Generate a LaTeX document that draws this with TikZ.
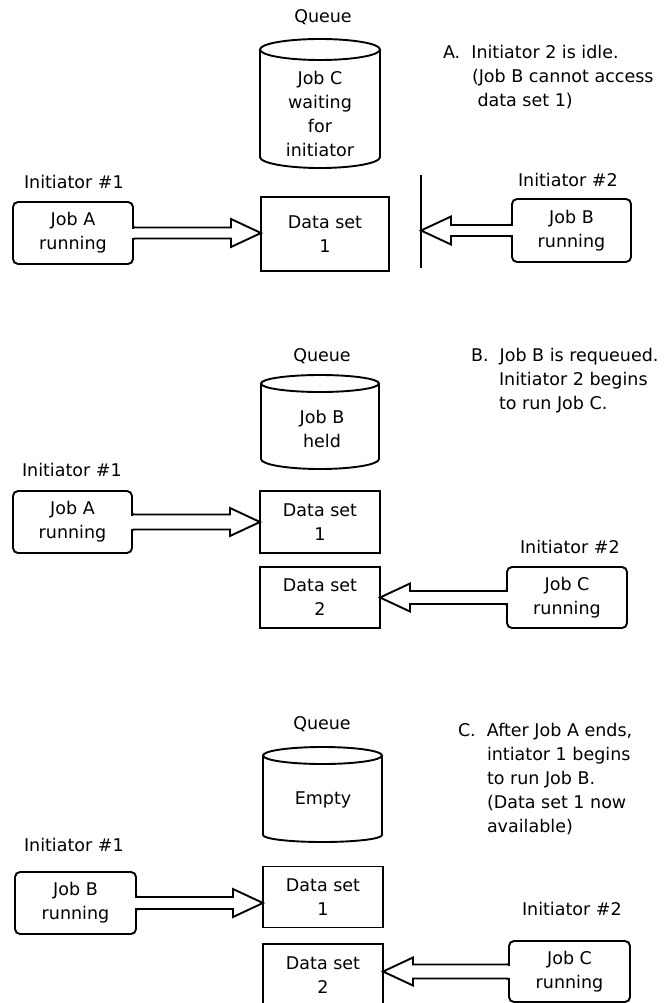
\documentclass[tikz,border=0pt]{standalone}
\usepackage{fontspec}
\setmainfont{DejaVu Sans}
\usetikzlibrary{calc}
\tikzset{
  txt/.style={font=\fontsize{17.5}{24}\selectfont, inner sep=0pt, outer sep=0pt},
  lbl/.style={txt, anchor=base west},
  note/.style={txt, anchor=north west, align=left},
  jobbox/.style={txt, draw, line width=1.9pt, rounded corners=5pt, align=center},
  databox/.style={txt, draw, line width=1.9pt, align=center},
  arrowline/.style={line width=1.9pt, line join=miter},
  cyl/.style={line width=1.9pt},
  divider/.style={line width=2pt},
}
% hollow block arrow: #1 source anchor, #2 tip point, #3 direction (1 right, -1 left), #4 shaft half width
\newcommand\hollowarrow[4]{%
  \fill[white] let \p1=(#1), \p2=(#2) in ({\x1-1.4pt},{\y2+#4pt-1pt}) rectangle ({\x1+1.4pt},{\y2-#4pt+1pt});
  \draw[arrowline] let \p1=(#1), \p2=(#2), \p3=({\x2-(#3)*30pt},\y2) in
    (\x1,{\y2+#4pt+4pt}) .. controls (\x1,{\y2+#4pt}) .. ({\x1+(#3)*4pt},{\y2+#4pt})
    -- (\x3,{\y2+#4pt}) -- (\x3,{\y2+14pt}) -- (\x2,\y2) -- (\x3,{\y2-14pt}) -- (\x3,{\y2-#4pt})
    -- ({\x1+(#3)*4pt},{\y2-#4pt}) .. controls (\x1,{\y2-#4pt}) .. (\x1,{\y2-#4pt-4pt});
}
% cylinder: #1 left x, #2 right x, #3 top centre y, #4 top ry, #5 y where sides end, #6 bottom ry
\newcommand\drawcyl[6]{%
  \draw[cyl] (#1,#3) -- (#1,#5) arc[start angle=180,end angle=360,x radius={(#2-#1)/2*1pt},y radius=#6pt] -- (#2,#3);
  \draw[cyl] ({(#1+#2)/2},#3) ellipse[x radius={(#2-#1)/2*1pt}, y radius=#4pt];
}
\begin{document}
\begin{tikzpicture}[x=1pt,y=-1pt]
\fill[white] (0,0) rectangle (671,1003);
\useasboundingbox (0,0) rectangle (671,1003);

% ---------------- Panel A ----------------
\node[txt, anchor=base] (queueA) at (323,22.2) {Queue};
\drawcyl{260}{380}{49.5}{10.5}{157}{11}
\node[txt, align=center] (qtextA) at (320,113.5) {Job C\\waiting\\for\\initiator};
\node[note] (noteA) at (443,45.3) {A.\ \ Initiator 2 is idle.\\\hspace*{29pt}(Job B cannot access\\\hspace*{34.5pt}data set 1)};
\node[lbl] (initAa) at (24,188.2) {Initiator \#1};
\node[lbl] (initAb) at (518,186.2) {Initiator \#2};
\node[jobbox, minimum width=120pt, minimum height=62pt] (jobAa) at (73,233) {Job A\\running};
\node[databox, minimum width=128pt, minimum height=74pt] (dsAa) at (325,234) {Data set\\1};
\node[jobbox, minimum width=119pt, minimum height=63pt] (jobAb) at (571.5,230.5) {Job B\\running};
\coordinate (barTop) at (421,175);
\coordinate (barBot) at (421,268);
\draw[divider] (barTop) -- (barBot);
\hollowarrow{jobAa.east}{dsAa.west |- jobAa.east}{1}{5.5}
\hollowarrow{jobAb.west}{barTop |- jobAb.west}{-1}{5.5}

% ---------------- Panel B ----------------
\node[txt, anchor=base] (queueB) at (322,361.2) {Queue};
\drawcyl{261}{379}{383.5}{8.5}{459}{10}
\node[txt, align=center] (qtextB) at (322,428.5) {Job B\\held};
\node[note] (noteB) at (471,348.3) {B.\ \ Job B is requeued.\\\hspace*{28pt}Initiator 2 begins\\\hspace*{28pt}to run Job C.};
\node[lbl] (initBa) at (22,476.2) {Initiator \#1};
\node[lbl] (initBb) at (520,553.2) {Initiator \#2};
\node[jobbox, minimum width=119pt, minimum height=62pt] (jobBa) at (72.5,522) {Job A\\running};
\node[databox, minimum width=120pt, minimum height=62pt] (dsBa) at (320,522) {Data set\\1};
\node[databox, minimum width=120pt, minimum height=61pt] (dsBb) at (320,597.5) {Data set\\2};
\node[jobbox, minimum width=120pt, minimum height=61pt] (jobBb) at (567,597.5) {Job C\\running};
\hollowarrow{jobBa.east}{dsBa.west |- jobBa.east}{1}{7.5}
\hollowarrow{jobBb.west}{dsBb.east |- jobBb.west}{-1}{6.5}

% ---------------- Panel C ----------------
\node[txt, anchor=base] (queueC) at (322,729.2) {Queue};
\drawcyl{263}{382}{755.5}{8.5}{835}{7}
\node[txt, anchor=base] (qtextC) at (323,804.2) {Empty};
\node[note] (noteC) at (458,723.3) {C.\ \ After Job A ends,\\\hspace*{29pt}intiator 1 begins\\\hspace*{29pt}to run Job B.\\\hspace*{29pt}(Data set 1 now\\\hspace*{29pt}available)};
\node[lbl] (initCa) at (24,851.2) {Initiator \#1};
\node[lbl] (initCb) at (522,915.2) {Initiator \#2};
\node[jobbox, minimum width=121pt, minimum height=62pt] (jobCa) at (75.5,903) {Job B\\running};
\node[databox, minimum width=120pt, minimum height=61pt] (dsCa) at (323,897) {Data set\\1};
\node[databox, minimum width=120pt, minimum height=62pt] (dsCb) at (323,975) {Data set\\2};
\node[jobbox, minimum width=121pt, minimum height=61pt] (jobCb) at (569.5,971.5) {Job C\\running};
\hollowarrow{jobCa.east}{dsCa.west |- jobCa.east}{1}{6}
\hollowarrow{jobCb.west}{dsCb.east |- jobCb.west}{-1}{7}
\end{tikzpicture}
\end{document}
